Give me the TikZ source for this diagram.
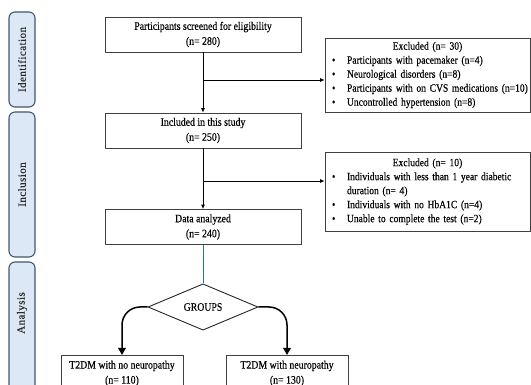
\documentclass[tikz,border=0pt]{standalone}
\usepackage{fontspec}
\setmainfont[FakeStretch=0.86,FakeBold=0.3]{Liberation Serif}
\newfontfamily\tabfont[LetterSpace=4,FakeBold=0.3]{Liberation Serif}
\usetikzlibrary{shapes.geometric,arrows.meta,shadows,calc}
\definecolor{tabfill}{HTML}{DCE8F5}
\definecolor{tabdraw}{HTML}{3E5870}
\definecolor{linkblue}{HTML}{1F77B4}
\definecolor{tabtext}{HTML}{2B2B2B}
\newcommand\bul{\noindent\hangindent=19.5pt\hangafter=1\makebox[19.5pt][l]{\hspace{4.5pt}•}}
\begin{document}
\begin{tikzpicture}[x=1pt,y=-1pt,
  font=\fontsize{11.4}{15}\selectfont,
  box/.style={draw=black!75, line width=0.7pt, minimum width=196pt, minimum height=35pt, align=center, inner sep=0pt},
  exbox/.style={draw=black!75, line width=0.7pt, fill=white, minimum width=205pt, text width=200pt, inner xsep=2.5pt, inner ysep=2pt,
     font=\fontsize{11.1}{14}\selectfont, drop shadow={shadow xshift=1.2pt, shadow yshift=-1.2pt, fill=black!40, opacity=0.6}},
  tabbox/.style={draw=tabdraw, fill=tabfill, line width=1.1pt, rounded corners=6pt, minimum width=26pt},
  tablabel/.style={rotate=90, text=tabtext, font=\tabfont\fontsize{11}{12}\selectfont},
  arr/.style={-{Latex[length=4.5pt,width=4pt]}, line width=0.8pt},
  bigarr/.style={-{Triangle[length=7pt,width=7.5pt]}, line width=1.5pt}]
\useasboundingbox (0,0) rectangle (531,385);
% side tabs
\node[tabbox, minimum height=95pt] (t1) at (22,59.5) {};
\node[tablabel] (t1l) at (t1) {Identification};
\node[tabbox, minimum height=145pt] (t2) at (22,184.5) {};
\node[tablabel] (t2l) at (t2) {Inclusion};
\node[tabbox, minimum height=140pt] (t3) at (22,332) {};
\node[tablabel] (t3l) at (22,313) {Analysis};
% main boxes
\node[box] (b1) at (203,34.5) {Participants screened for eligibility\\(n= 280)};
\node[box] (b2) at (203,130.5) {Included in this study\\(n= 250)};
\node[box] (b3) at (203,227) {Data analyzed\\(n= 240)};
\node[diamond, draw=black!85, line width=0.9pt, minimum width=110pt, minimum height=44pt, inner sep=0pt] (g) at (203,307) {GROUPS};
\node[box, minimum width=122pt, minimum height=36pt, anchor=north] (l) at (122,355) {T2DM with no neuropathy\\(n= 110)};
\node[box, minimum width=122pt, minimum height=36pt, anchor=north] (r) at (287,355) {T2DM with neuropathy\\(n= 130)};
% excluded boxes
\node[exbox, minimum height=74pt] (ex1) at (427.5,75) {\raggedright
  {\centering Excluded (n= 30)\par}
  \bul Participants with pacemaker (n=4)\par
  \bul Neurological disorders (n=8)\par
  \bul \mbox{Participants with on CVS medications (n=10)}\par
  \bul Uncontrolled hypertension (n=8)\par};
\node[exbox, minimum height=79pt] (ex2) at (427.5,191.5) {\raggedright
  {\centering Excluded (n= 10)\par}
  \bul Individuals with less than 1 year diabetic\newline duration (n= 4)\par
  \bul Individuals with no HbA1C (n=4)\par
  \bul Unable to complete the test (n=2)\par};
% connectors
\coordinate (j1) at (203,80);
\coordinate (j2) at (203,181);
\draw[arr] (b1.south) -- (b2.north);
\draw[arr] (j1) -- (j1 -| ex1.west);
\draw[arr] (b2.south) -- (b3.north);
\draw[arr] (j2) -- (j2 -| ex2.west);
\draw[linkblue, line width=1pt] (b3.south) -- (g.north);
\draw[bigarr, rounded corners=18pt] (g.west) -| (l.north);
\draw[bigarr, rounded corners=18pt] (g.east) -| (r.north);
\end{tikzpicture}
\end{document}
